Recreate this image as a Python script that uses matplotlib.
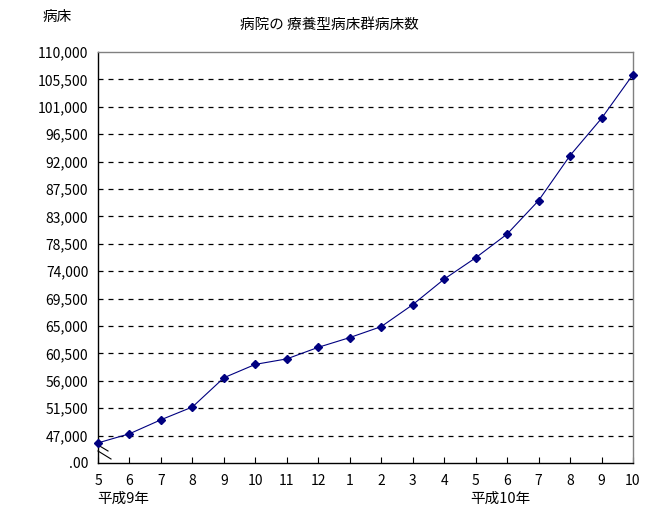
import matplotlib
matplotlib.use("Agg")
import matplotlib.pyplot as plt
from matplotlib.ticker import FixedLocator, FuncFormatter

plt.rcParams['font.family'] = ['Noto Sans CJK JP', 'DejaVu Sans']

months = ["5", "6", "7", "8", "9", "10", "11", "12", "1", "2",
          "3", "4", "5", "6", "7", "8", "9", "10"]
beds = [45800, 47300, 49600, 51700, 56500, 58700, 59600, 61500, 63100, 64900,
        68500, 72700, 76200, 80100, 85600, 93000, 99100, 106300]
yticks = [42500, 47000, 51500, 56000, 60500, 65000, 69500, 74000, 78500,
          83000, 87500, 92000, 96500, 101000, 105500, 110000]
title = "病院の 療養型病床群病床数"
ylabel = "病床"
year_labels = ["平成9年", "平成10年"]

W, H = 658, 530
fig = plt.figure(figsize=(W / 100, H / 100), dpi=100)
ax = fig.add_axes([98 / W, 1 - 463 / H, (633 - 98) / W, (463 - 52) / H])

x = list(range(len(months)))
ax.plot(x, beds, color="#000080", linewidth=0.8, marker="D", markersize=4.5,
        markerfacecolor="#000080", markeredgecolor="#000080", zorder=3,
        clip_on=False)

ax.set_xlim(0, len(months) - 1)
ax.set_ylim(yticks[0], yticks[-1])
ax.xaxis.set_major_locator(FixedLocator(x))
ax.set_xticklabels(months, fontsize=10)
ax.yaxis.set_major_locator(FixedLocator(yticks))

def yfmt(v, pos):
    if pos == 0:
        return ".00"
    return f"{int(v):,}"

ax.yaxis.set_major_formatter(FuncFormatter(yfmt))
ax.tick_params(axis="y", length=0, pad=7, labelsize=10)
ax.tick_params(axis="x", direction="in", length=4, pad=8, labelsize=10)

for v in yticks[1:-1]:
    ax.axhline(v, color="black", linewidth=0.9, linestyle=(0, (4, 4)), zorder=1)

for s in ("top", "right"):
    ax.spines[s].set_color("#808080")
for s in ("left", "bottom"):
    ax.spines[s].set_color("black")
for s in ax.spines.values():
    s.set_linewidth(1.0)

# axis break marks
def px(xp, yp):
    return ((xp - 98) / (633 - 98), (463 - yp) / (463 - 52))

for (x0, y0), (x1, y1) in [((98, 445), (108, 451)), ((98, 451), (111, 459))]:
    a, b = px(x0, y0)
    c, d = px(x1, y1)
    ax.plot([a, c], [b, d], transform=ax.transAxes, color="black",
            linewidth=0.8, clip_on=False)

fig.text(0.5, 1 - 25 / H, title, ha="center", va="center", fontsize=10.5)
fig.text(43 / W, 1 - 17 / H, ylabel, ha="left", va="center", fontsize=10.5)
fig.text(97 / W, 1 - 499 / H, year_labels[0], ha="left", va="center", fontsize=10.5)
fig.text(500 / W, 1 - 499 / H, year_labels[1], ha="center", va="center", fontsize=10.5)

fig.savefig("out.png", dpi=100)
